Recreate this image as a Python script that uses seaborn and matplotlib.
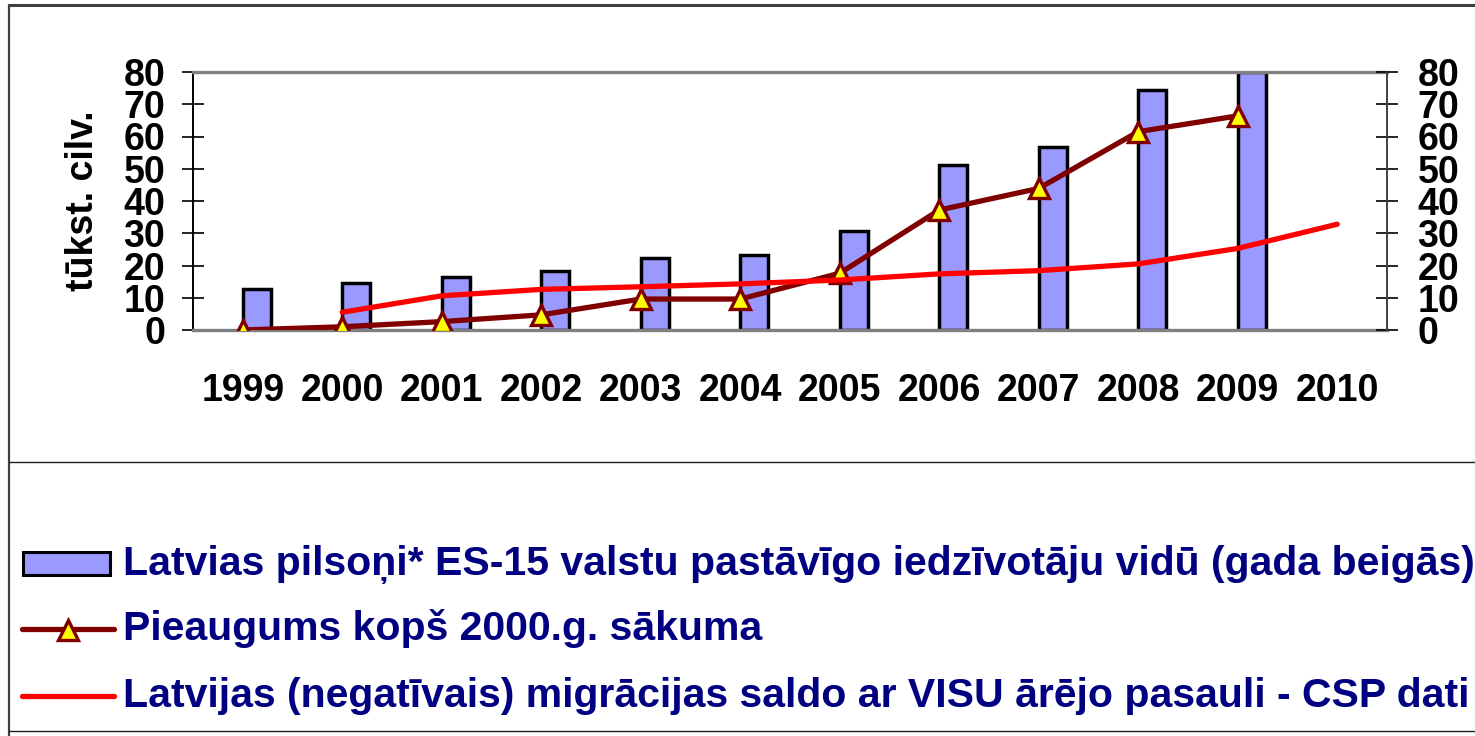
import numpy as np
import pandas as pd
import matplotlib
matplotlib.use("Agg")
import matplotlib.pyplot as plt
from matplotlib.lines import Line2D
from matplotlib.patches import Rectangle
import seaborn as sns

# data (thousand persons)
years = ["1999", "2000", "2001", "2002", "2003", "2004",
         "2005", "2006", "2007", "2008", "2009", "2010"]
bar_years = years[:11]
citizens_eu15 = [12.6, 14.5, 16.3, 18.3, 22.2, 23.2, 30.8, 51.2, 56.8, 74.4, 80.0]
growth_years = years[:11]
growth_since_2000 = [0.0, 1.0, 2.6, 4.7, 9.6, 9.6, 17.6, 37.2, 43.9, 61.5, 66.4]
migr_years = years[1:]
migration_saldo = [5.5, 10.6, 12.6, 13.4, 14.3, 15.5, 17.4, 18.4, 20.5, 25.3, 32.8]

labels = [
    "Latvias pilsoņi* ES-15 valstu pastāvīgo iedzīvotāju vidū (gada beigās)",
    "Pieaugums kopš 2000.g. sākuma",
    "Latvijas (negatīvais) migrācijas saldo ar VISU ārējo pasauli - CSP dati",
]

sns.set_theme(style="white")
plt.rcParams["font.family"] = ["Liberation Sans", "DejaVu Sans"]
plt.rcParams["font.weight"] = "bold"
plt.rcParams["text.color"] = "black"
plt.rcParams["axes.labelcolor"] = "black"
plt.rcParams["xtick.color"] = "black"
plt.rcParams["ytick.color"] = "black"

W, H = 1475, 736
fig = plt.figure(figsize=(W / 100, H / 100), dpi=100)
ax = fig.add_axes([193 / W, 1 - 330 / H, (1387 - 193) / W, (330 - 72) / H])

bar_df = pd.DataFrame({"year": bar_years, "value": citizens_eu15})
sns.barplot(data=bar_df, x="year", y="value", order=years, color="#9999FF",
            saturation=1, edgecolor="black", linewidth=2.5, width=0.28, ax=ax)
# bars sit right of the category centre, as in the original
for p in ax.patches:
    p.set_x(p.get_x() + p.get_width() / 2)

pos = {y: i for i, y in enumerate(years)}
sns.lineplot(x=[pos[y] for y in growth_years], y=growth_since_2000, color="#800000",
             linewidth=3.8, marker="^", markersize=15, markerfacecolor="#FFFF00",
             markeredgecolor="#800000", markeredgewidth=2.4, zorder=4, ax=ax)
sns.lineplot(x=[pos[y] for y in migr_years], y=migration_saldo, color="#FF0000",
             linewidth=3.8, zorder=5, ax=ax)

ax.set_xlim(-0.5, len(years) - 0.5)
ax.set_ylim(0, 80)
ax.set_xticks(range(len(years)))
ax.set_xticklabels(years)
ax.set_xticks(np.arange(-0.5, len(years), 1), minor=True)
ax.tick_params(axis="x", which="major", length=0, pad=31, labelsize=27, labelcolor="black")
ax.tick_params(axis="x", which="minor", length=9.5, width=1.2, color="black", direction="out")
ax.set_yticks(range(0, 81, 10))
ax.tick_params(axis="y", direction="inout", length=16, width=1.2, color="black",
               pad=12, labelsize=27, labelcolor="black", left=True)
ax.set_xlabel("")
ax.set_ylabel("tūkst. cilv.", fontsize=27, fontweight="bold", color="black", labelpad=16)

for s in ["top", "bottom"]:
    ax.spines[s].set_color("#808080")
    ax.spines[s].set_linewidth(2.4)
ax.spines["left"].set_color("black")
ax.spines["left"].set_linewidth(1.4)
ax.spines["right"].set_visible(False)

ax2 = ax.twinx()
ax2.set_ylim(0, 80)
ax2.set_yticks(range(0, 81, 10))
ax2.tick_params(axis="y", direction="inout", length=16, width=1.2, color="black",
                pad=14, labelsize=27, labelcolor="black", right=True)
for s in ["top", "bottom", "left"]:
    ax2.spines[s].set_visible(False)
ax2.spines["right"].set_color("#404040")
ax2.spines["right"].set_linewidth(1.4)
ax2.grid(False)
ax.grid(False)


def fx(px):
    return px / W


def fy(py):
    return 1 - py / H


# outer frame lines
fig.add_artist(Line2D([fx(9), 1], [fy(5), fy(5)], color="#404040", lw=2.2))
fig.add_artist(Line2D([fx(9), fx(9)], [fy(5), 0], color="#404040", lw=1.6))
fig.add_artist(Line2D([fx(9), 1], [fy(462), fy(462)], color="#202020", lw=1.0))
fig.add_artist(Line2D([fx(9), 1], [fy(731), fy(731)], color="#202020", lw=1.0))

# legend drawn by hand
fig.add_artist(Rectangle((fx(23), fy(575)), fx(110) - fx(23), fy(552) - fy(575),
                         transform=fig.transFigure, facecolor="#9999FF",
                         edgecolor="black", lw=2.2))
fig.add_artist(Line2D([fx(22), fx(114)], [fy(629), fy(629)], color="#800000",
                      lw=3.8, solid_capstyle="round"))
fig.add_artist(Line2D([fx(68)], [fy(630)], marker="^", markersize=15,
                      markerfacecolor="#FFFF00", markeredgecolor="#800000",
                      markeredgewidth=2.4))
fig.add_artist(Line2D([fx(22), fx(114)], [fy(696), fy(696)], color="#FF0000",
                      lw=3.8, solid_capstyle="round"))
for lab, base in zip(labels, [575, 640, 707]):
    fig.text(fx(123), fy(base), lab, fontsize=29.5, fontweight="bold",
             color="#000080", va="baseline", ha="left")

fig.savefig("out.png", dpi=100)
